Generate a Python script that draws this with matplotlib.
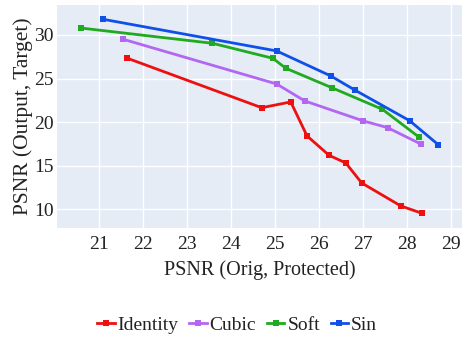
import matplotlib
matplotlib.use("Agg")
import matplotlib.pyplot as plt
from matplotlib.lines import Line2D

plt.rcParams['font.family'] = ['Liberation Serif', 'DejaVu Serif']

# PSNR trade-off curves per activation
identity_x = [21.64, 24.69, 25.35, 25.72, 26.22, 26.60, 26.96, 27.85, 28.33]
identity_y = [27.33, 21.66, 22.32, 18.42, 16.20, 15.32, 13.03, 10.39, 9.55]

cubic_x = [21.55, 25.03, 25.67, 27.00, 27.55, 28.30]
cubic_y = [29.50, 24.38, 22.43, 20.14, 19.37, 17.50]

soft_x = [20.58, 23.57, 24.94, 25.24, 26.28, 27.43, 28.26]
soft_y = [30.80, 29.05, 27.33, 26.18, 23.96, 21.48, 18.30]

sin_x = [21.09, 25.03, 26.26, 26.80, 28.05, 28.70]
sin_y = [31.80, 28.17, 25.30, 23.70, 20.17, 17.42]

series_names = ["Identity", "Cubic", "Soft", "Sin"]
series_colors = ["#ee0f0f", "#b266f2", "#1faa1f", "#0f50e8"]
x_ticks = [21, 22, 23, 24, 25, 26, 27, 28, 29]
y_ticks = [10, 15, 20, 25, 30]

fig = plt.figure(figsize=(4.62, 3.39), dpi=100)
ax = fig.add_axes([57 / 462, 1 - 228 / 339, (462 - 57) / 462, (228 - 5) / 339])
ax.set_facecolor("#e5ecf6")
for s in ax.spines.values():
    s.set_visible(False)

series = [(identity_x, identity_y), (cubic_x, cubic_y), (soft_x, soft_y), (sin_x, sin_y)]
handles = []
for (xs, ys), name, col in zip(series, series_names, series_colors):
    ax.plot(xs, ys, color=col, lw=2.0, marker="s", ms=4.5, mew=0, zorder=3)
    handles.append(Line2D([0], [0], color=col, lw=2.0, marker="s", ms=4.5, mew=0, label=name))

ax.set_xlim(20.04, 29.24)
ax.set_ylim(7.86, 33.44)
ax.set_xticks(x_ticks)
ax.set_yticks(y_ticks)
ax.grid(True, color="white", lw=1.0, zorder=0)
ax.set_axisbelow(True)
ax.tick_params(axis="x", length=0, labelsize=14, colors="#222222", pad=6)
ax.tick_params(axis="y", length=0, labelsize=14, colors="#222222", pad=2.5)

ax.set_xlabel("PSNR (Orig, Protected)", fontsize=14.5, color="#222222", labelpad=5)
ax.set_ylabel("PSNR (Output, Target)", fontsize=15.5, color="#222222", labelpad=0.5)

fig.legend(handles=handles, loc="center", bbox_to_anchor=(237 / 462, 1 - 325 / 339),
           ncol=4, frameon=False, fontsize=14, handlelength=0.9, handletextpad=0.15,
           columnspacing=0.55, labelcolor="#222222")

fig.savefig("out.png", dpi=100)
